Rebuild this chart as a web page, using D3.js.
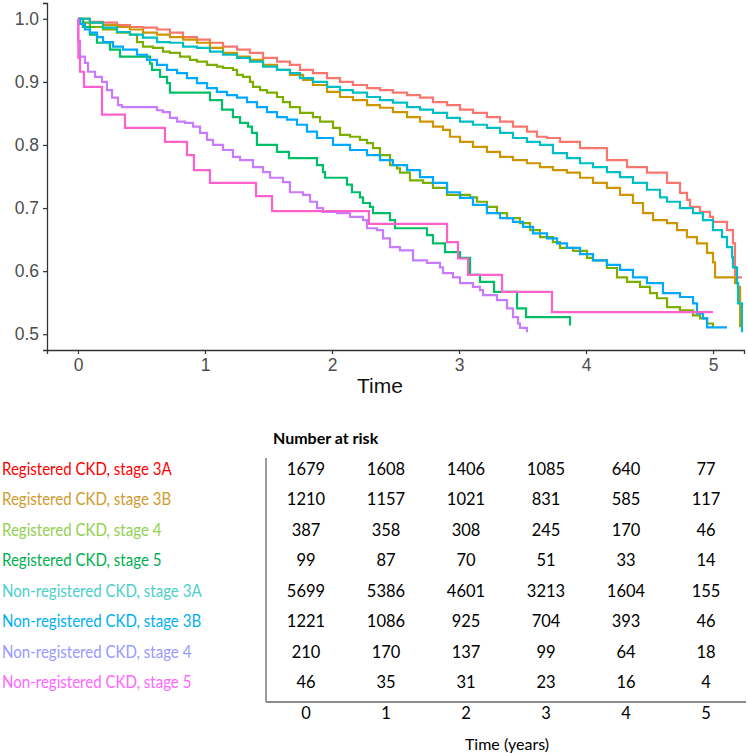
<!DOCTYPE html>
<html><head><meta charset="utf-8">
<script src="https://cdn.jsdelivr.net/npm/d3@7"></script>
<style>
html,body{margin:0;padding:0;background:#fff;}
svg{display:block;}
</style></head>
<body>
<svg id="chart" width="748" height="754"></svg>
<script>
// ---- data (time in years, survival probability) ----
const reg3A = [[0,1.0],[0.094,0.995],[0.197,0.994],[0.307,0.990],[0.409,0.987],[0.512,0.986],[0.622,0.983],[0.724,0.978],[0.827,0.971],[0.937,0.967],[1.039,0.962],[1.142,0.956],[1.252,0.951],[1.354,0.946],[1.457,0.938],[1.567,0.932],[1.669,0.927],[1.748,0.919],[1.850,0.914],[1.961,0.906],[2.063,0.900],[2.165,0.895],[2.276,0.890],[2.378,0.887],[2.480,0.883],[2.591,0.879],[2.693,0.875],[2.795,0.868],[2.906,0.863],[3.008,0.856],[3.110,0.851],[3.220,0.844],[3.323,0.837],[3.425,0.829],[3.535,0.821],[3.614,0.813],[3.693,0.811],[3.795,0.805],[3.953,0.795],[4.165,0.776],[4.323,0.765],[4.480,0.756],[4.638,0.740],[4.740,0.724],[4.795,0.713],[4.819,0.702],[4.898,0.694],[4.976,0.686],[5.000,0.678],[5.110,0.665],[5.157,0.644],[5.173,0.590],[5.228,0.590]];
const reg3B = [[0,1.0],[0.094,0.994],[0.197,0.990],[0.307,0.987],[0.409,0.983],[0.512,0.978],[0.622,0.975],[0.724,0.971],[0.827,0.967],[0.937,0.962],[1.039,0.954],[1.142,0.946],[1.252,0.940],[1.354,0.935],[1.457,0.927],[1.567,0.919],[1.669,0.911],[1.772,0.903],[1.850,0.895],[1.961,0.884],[2.063,0.876],[2.165,0.871],[2.276,0.863],[2.378,0.859],[2.480,0.852],[2.591,0.844],[2.693,0.837],[2.795,0.829],[2.874,0.824],[2.929,0.813],[3.008,0.805],[3.110,0.797],[3.220,0.789],[3.323,0.781],[3.425,0.776],[3.535,0.771],[3.638,0.765],[3.740,0.760],[3.850,0.756],[3.953,0.748],[4.055,0.740],[4.165,0.732],[4.268,0.721],[4.370,0.708],[4.449,0.692],[4.528,0.681],[4.638,0.676],[4.717,0.665],[4.795,0.654],[4.874,0.644],[4.953,0.629],[5.000,0.614],[5.016,0.590],[5.173,0.581],[5.197,0.575],[5.213,0.511]];
const reg4 = [[0,1.0],[0.039,0.994],[0.094,0.987],[0.197,0.983],[0.307,0.978],[0.409,0.975],[0.465,0.963],[0.512,0.956],[0.591,0.954],[0.669,0.948],[0.724,0.946],[0.803,0.940],[0.882,0.935],[0.937,0.932],[1.016,0.927],[1.094,0.924],[1.142,0.922],[1.220,0.919],[1.252,0.911],[1.299,0.908],[1.354,0.900],[1.378,0.892],[1.433,0.887],[1.488,0.883],[1.567,0.876],[1.614,0.868],[1.669,0.860],[1.748,0.851],[1.850,0.844],[1.906,0.837],[2.008,0.827],[2.063,0.816],[2.142,0.813],[2.220,0.808],[2.276,0.803],[2.323,0.795],[2.378,0.784],[2.457,0.768],[2.512,0.763],[2.535,0.756],[2.614,0.744],[2.717,0.740],[2.795,0.732],[2.906,0.721],[3.087,0.717],[3.142,0.710],[3.220,0.702],[3.299,0.692],[3.378,0.684],[3.480,0.676],[3.559,0.665],[3.638,0.654],[3.740,0.646],[3.795,0.637],[3.898,0.632],[4.008,0.621],[4.055,0.617],[4.165,0.605],[4.244,0.590],[4.323,0.583],[4.425,0.575],[4.504,0.565],[4.559,0.557],[4.638,0.543],[4.740,0.538],[4.843,0.530],[4.898,0.525],[4.953,0.517],[5.000,0.510]];
const reg5 = [[0,1.0],[0.039,0.987],[0.094,0.975],[0.150,0.962],[0.252,0.951],[0.331,0.940],[0.567,0.929],[0.583,0.919],[0.646,0.908],[0.701,0.898],[0.724,0.883],[1.039,0.871],[1.134,0.856],[1.220,0.844],[1.276,0.835],[1.339,0.829],[1.370,0.819],[1.409,0.800],[1.567,0.789],[1.661,0.779],[1.882,0.768],[1.929,0.757],[1.945,0.748],[2.118,0.737],[2.157,0.725],[2.220,0.717],[2.244,0.708],[2.299,0.702],[2.323,0.692],[2.457,0.681],[2.496,0.668],[2.748,0.657],[2.795,0.644],[2.890,0.630],[3.008,0.621],[3.087,0.594],[3.165,0.583],[3.276,0.567],[3.457,0.541],[3.528,0.527],[3.874,0.514]];
const nreg3A = [[0,1.0],[0.094,0.994],[0.197,0.986],[0.307,0.979],[0.409,0.975],[0.512,0.970],[0.622,0.963],[0.724,0.962],[0.827,0.956],[0.937,0.954],[1.039,0.948],[1.142,0.943],[1.252,0.938],[1.354,0.932],[1.457,0.924],[1.567,0.919],[1.669,0.914],[1.748,0.906],[1.850,0.900],[1.961,0.892],[2.063,0.887],[2.165,0.883],[2.276,0.876],[2.378,0.871],[2.480,0.867],[2.591,0.860],[2.693,0.856],[2.795,0.851],[2.906,0.843],[3.008,0.837],[3.110,0.832],[3.220,0.827],[3.323,0.819],[3.425,0.811],[3.535,0.805],[3.638,0.800],[3.740,0.787],[3.850,0.779],[3.953,0.771],[4.055,0.765],[4.165,0.757],[4.268,0.749],[4.370,0.740],[4.480,0.729],[4.583,0.717],[4.638,0.710],[4.740,0.700],[4.843,0.692],[4.921,0.681],[5.000,0.665],[5.071,0.654],[5.110,0.638],[5.150,0.622],[5.157,0.606],[5.189,0.581],[5.197,0.549],[5.228,0.503]];
const nreg3B = [[0,1.0],[0.016,0.992],[0.055,0.983],[0.094,0.978],[0.150,0.971],[0.197,0.963],[0.276,0.956],[0.354,0.951],[0.465,0.943],[0.543,0.935],[0.622,0.927],[0.701,0.919],[0.780,0.914],[0.858,0.906],[0.937,0.898],[1.016,0.890],[1.094,0.884],[1.173,0.879],[1.252,0.875],[1.331,0.868],[1.409,0.860],[1.488,0.852],[1.567,0.844],[1.646,0.840],[1.724,0.832],[1.803,0.821],[1.882,0.811],[2.008,0.800],[2.142,0.792],[2.276,0.784],[2.378,0.776],[2.480,0.768],[2.591,0.760],[2.693,0.749],[2.795,0.740],[2.906,0.725],[3.008,0.716],[3.110,0.705],[3.220,0.692],[3.323,0.684],[3.425,0.678],[3.504,0.670],[3.583,0.660],[3.693,0.652],[3.772,0.644],[3.850,0.637],[3.953,0.627],[4.055,0.617],[4.165,0.610],[4.268,0.602],[4.370,0.590],[4.480,0.581],[4.606,0.565],[4.740,0.559],[4.843,0.549],[4.874,0.533],[4.921,0.525],[4.953,0.511],[5.110,0.511]];
const nreg4 = [[0,1.0],[0.001,0.965],[0.016,0.940],[0.055,0.930],[0.079,0.916],[0.134,0.908],[0.189,0.900],[0.228,0.887],[0.268,0.875],[0.315,0.863],[0.346,0.860],[0.622,0.855],[0.669,0.852],[0.724,0.843],[0.780,0.837],[0.843,0.835],[0.906,0.829],[0.961,0.819],[1.016,0.808],[1.063,0.800],[1.142,0.792],[1.220,0.781],[1.276,0.776],[1.378,0.765],[1.457,0.757],[1.512,0.748],[1.614,0.741],[1.669,0.725],[1.772,0.721],[1.827,0.710],[1.882,0.700],[1.929,0.694],[2.039,0.692],[2.142,0.686],[2.244,0.681],[2.276,0.668],[2.354,0.665],[2.402,0.652],[2.457,0.638],[2.535,0.633],[2.638,0.617],[2.748,0.613],[2.850,0.606],[2.874,0.597],[2.953,0.590],[3.008,0.581],[3.110,0.575],[3.165,0.570],[3.189,0.562],[3.299,0.554],[3.378,0.541],[3.425,0.527],[3.465,0.517],[3.480,0.510],[3.535,0.503]];
const nreg5 = [[0,1.0],[0.003,0.938],[0.016,0.916],[0.047,0.892],[0.189,0.848],[0.370,0.827],[0.685,0.805],[0.858,0.784],[0.913,0.760],[1.039,0.740],[1.402,0.719],[1.528,0.695],[2.291,0.675],[2.906,0.646],[2.992,0.620],[3.071,0.594],[3.339,0.567],[3.732,0.535],[5.000,0.535]];

const seriesNames = ["Registered CKD, stage 3A","Registered CKD, stage 3B","Registered CKD, stage 4","Registered CKD, stage 5","Non-registered CKD, stage 3A","Non-registered CKD, stage 3B","Non-registered CKD, stage 4","Non-registered CKD, stage 5"];
const seriesData = [reg3A, reg3B, reg4, reg5, nreg3A, nreg3B, nreg4, nreg5];
const lineColors = ["#F8766D","#CD9600","#7CAE00","#00BE67","#00BFC4","#00A9FF","#C77CFF","#FF61CC"];
const labelColors = ["#FF0000","#D09B2C","#92D050","#00B050","#4BCFCB","#00B0F0","#9999FF","#FF66FF"];

const riskTimes = [0,1,2,3,4,5];
const riskReg3A  = [1679,1608,1406,1085,640,77];
const riskReg3B  = [1210,1157,1021,831,585,117];
const riskReg4   = [387,358,308,245,170,46];
const riskReg5   = [99,87,70,51,33,14];
const riskNreg3A = [5699,5386,4601,3213,1604,155];
const riskNreg3B = [1221,1086,925,704,393,46];
const riskNreg4  = [210,170,137,99,64,18];
const riskNreg5  = [46,35,31,23,16,4];
const riskRows = [riskReg3A,riskReg3B,riskReg4,riskReg5,riskNreg3A,riskNreg3B,riskNreg4,riskNreg5];

const yTicks = [0.5,0.6,0.7,0.8,0.9,1.0];
const xTicks = [0,1,2,3,4,5];

// ---- drawing ----
const svg = d3.select("#chart");
const x = d3.scaleLinear().domain([-0.244, 5.244]).range([47, 744]);
const y = d3.scaleLinear().domain([0.475, 1.025]).range([350, 3]);

const tickFont = "'Liberation Sans', Arial, sans-serif";
const axisColor = "#333";

const yAxis = svg.append("g").attr("transform","translate(47,0)")
  .call(d3.axisLeft(y).tickValues(yTicks).tickFormat(d3.format(".1f")).tickSize(4).tickPadding(4));
const xAxis = svg.append("g").attr("transform","translate(0,350)")
  .call(d3.axisBottom(x).tickValues(xTicks).tickFormat(d3.format("d")).tickSize(4).tickPadding(5));
[yAxis, xAxis].forEach(g => {
  g.select(".domain").attr("stroke", axisColor).attr("stroke-width", 1.3);
  g.selectAll(".tick line").attr("stroke", axisColor).attr("stroke-width", 1.2);
  g.selectAll(".tick text").attr("fill", "#4d4d4d").style("font-family", tickFont).style("font-size", "17.5px");
});

svg.append("text").attr("x", 380).attr("y", 393).attr("text-anchor","middle")
  .style("font-family", tickFont).style("font-size","21px").attr("fill","#111").text("Time");

const line = d3.line().x(d => x(d[0])).y(d => y(d[1])).curve(d3.curveStepAfter);
svg.append("g").selectAll("path").data(seriesData).join("path")
  .attr("d", line).attr("fill","none")
  .attr("stroke", (d,i) => lineColors[i]).attr("stroke-width", 2.2)
  .attr("stroke-linejoin","miter");

// ---- number at risk table ----
const tFont = "Lato, 'Open Sans', sans-serif";
const colX = d3.scaleLinear().domain([0,5]).range([306,706]);
const rowY = d3.scalePoint().domain(d3.range(8)).range([469, 682]);

svg.append("text").attr("x",273).attr("y",444).style("font-family",tFont)
  .style("font-size","16px").style("font-weight","bold").attr("fill","#000").text("Number at risk");

const labelScale = 0.885;
svg.append("g").attr("transform", `scale(${labelScale},1)`)
  .selectAll("text").data(seriesNames).join("text")
  .attr("x", 2 / labelScale).attr("y", (d,i) => rowY(i) + 6)
  .style("font-family", tFont).style("font-size","17px")
  .attr("fill", (d,i) => labelColors[i]).text(d => d);

const rows = svg.append("g").selectAll("g").data(riskRows).join("g");
rows.selectAll("text").data((d,i) => d.map((v,j) => ({v, j, i}))).join("text")
  .attr("x", d => colX(riskTimes[d.j])).attr("y", d => rowY(d.i) + 6)
  .attr("text-anchor","middle").style("font-family", tFont).style("font-size","16.5px")
  .attr("fill","#000").text(d => d.v);

svg.append("line").attr("x1",266).attr("x2",266).attr("y1",458).attr("y2",702).attr("stroke","#666").attr("stroke-width",1.3);
svg.append("line").attr("x1",266).attr("x2",746).attr("y1",702).attr("y2",702).attr("stroke","#666").attr("stroke-width",1.3);

svg.append("g").selectAll("text").data(riskTimes).join("text")
  .attr("x", d => colX(d)).attr("y", 719).attr("text-anchor","middle")
  .style("font-family", tFont).style("font-size","16.5px").attr("fill","#000").text(d => d);

svg.append("text").attr("x", 507).attr("y", 750).attr("text-anchor","middle")
  .style("font-family", tFont).style("font-size","16px").attr("fill","#000").text("Time (years)");
</script>
</body></html>
